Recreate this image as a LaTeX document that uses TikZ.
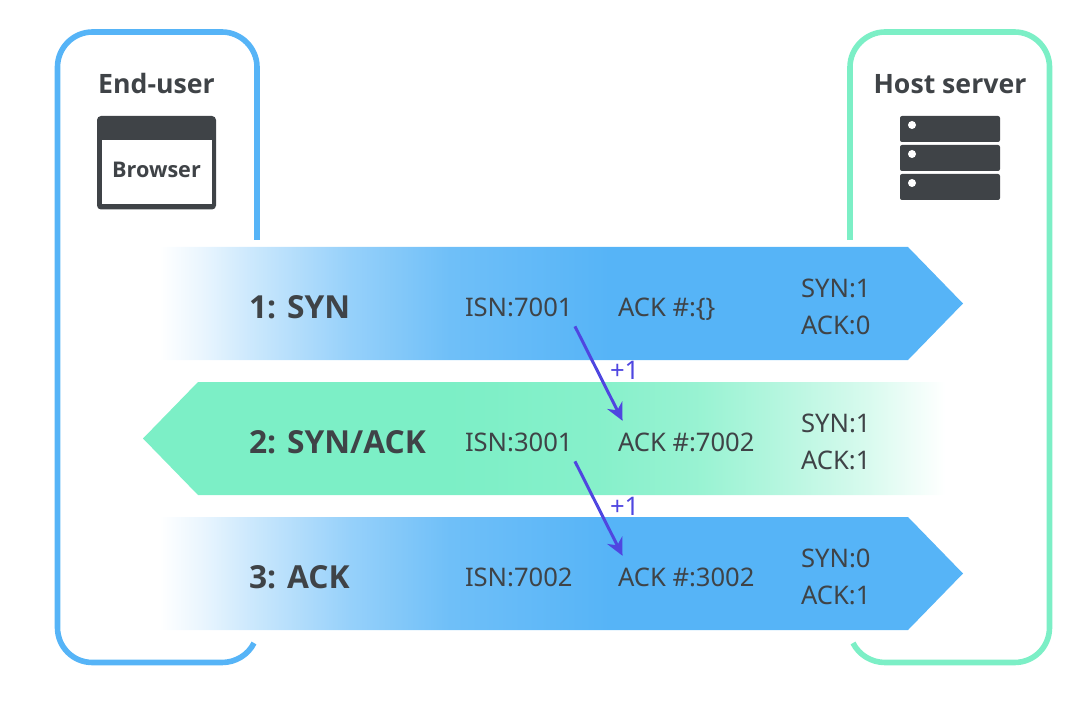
\documentclass[tikz,border=0pt]{standalone}
\usepackage{fontspec}
\setmainfont{Noto Sans}
\newfontfamily\labelfont{Open Sans}
\usetikzlibrary{arrows.meta,positioning,calc}

\definecolor{userblue}{HTML}{56B4F7}
\definecolor{hostgreen}{HTML}{7CEFC6}
\definecolor{inkgray}{HTML}{3F4347}
\definecolor{incviolet}{HTML}{4F46E0}

\pgfdeclarehorizontalshading{bluefade}{100bp}{color(0bp)=(white); color(25bp)=(white); color(27.5bp)=(userblue!12); color(30.6bp)=(userblue!30); color(36.8bp)=(userblue!62); color(43bp)=(userblue!85); color(53bp)=(userblue); color(100bp)=(userblue)}
\pgfdeclarehorizontalshading{greenfade}{100bp}{color(0bp)=(hostgreen); color(44bp)=(hostgreen); color(53.5bp)=(hostgreen!92); color(59.7bp)=(hostgreen!78); color(63.9bp)=(hostgreen!60); color(70.1bp)=(hostgreen!30); color(75bp)=(white); color(100bp)=(white)}

\begin{document}
\begin{tikzpicture}[
    x=0.75pt, y=-0.75pt,
    >=Stealth,
    node font=\fontsize{19.2pt}{22pt}\selectfont,
    every node/.style={inner sep=0pt, outer sep=0pt, text=inkgray},
    side box/.style={line width=4.2pt},
    seq label/.style={anchor=base west, font=\fontsize{23.8pt}{26pt}\selectfont\labelfont\bfseries},
    field/.style={anchor=base west},
    head label/.style={anchor=base, font=\fontsize{20pt}{22pt}\selectfont\labelfont\bfseries},
    inc arrow/.style={line width=2.25pt, draw=incviolet, -{Stealth[length=13pt, width=12.5pt]}},
    inc label/.style={anchor=base west, text=incviolet},
    server unit/.style={fill=inkgray, rounded corners=1.5pt},
]
\useasboundingbox (0,0) rectangle (1092,702);

% === Side boxes ===
\draw[side box, userblue] (257,240) -- (257,67) .. controls (257,48) and (241,32) .. (222,32)
    -- (92.5,32) .. controls (73,32) and (57.5,48) .. (57.5,67)
    -- (57.5,627.5) .. controls (57.5,647) and (73,662.5) .. (92.5,662.5)
    -- (222,662.5) .. controls (235.4,662.5) and (248.1,655) .. (254,643);
\draw[side box, hostgreen] (850,240) -- (850,67) .. controls (850,48) and (866,32) .. (885,32)
    -- (1014.5,32) .. controls (1034,32) and (1049.5,48) .. (1049.5,67)
    -- (1049.5,627.5) .. controls (1049.5,647) and (1034,662.5) .. (1014.5,662.5)
    -- (885,662.5) .. controls (871.6,662.5) and (858.9,655) .. (853,643);

\node[head label] (enduser) at (156.5,94) {End-user};
\node[head label] (hostserver) at (950,94) {Host server};

% === Browser window ===
\fill[inkgray, rounded corners=3pt] (97,116) rectangle (216,209.5);
\fill[white] (101.5,140) rectangle (211.5,204.5);
\node[anchor=base, font=\fontsize{16.2pt}{18pt}\selectfont\labelfont\bfseries] (browser) at (156.5,177.5) {Browser};

% === Server rack ===
\fill[server unit] (900,116) rectangle (1000,142);
\fill[server unit] (900,145) rectangle (1000,171);
\fill[server unit] (900,174) rectangle (1000,200);
\fill[white] (912,125) circle (4);
\fill[white] (912,154) circle (4);
\fill[white] (912,183) circle (4);

% === Segments ===
\path[shading=bluefade] (160,247) -- (908,247) -- (963,303.5) -- (908,360) -- (160,360) -- cycle;
\path[shading=greenfade] (945,382) -- (198,382) -- (143,438.5) -- (198,495) -- (945,495) -- cycle;
\path[shading=bluefade] (160,517) -- (908,517) -- (963,573.5) -- (908,630) -- (160,630) -- cycle;

% Row 1
\node[seq label] (syn) at (249,318) {1: SYN};
\node[field] (isnA) at (465,316) {ISN:7001};
\node[field] (ackA) at (618,316) {ACK \#:\{\}};
\node[field] (flagsynA) at (801,297) {SYN:1};
\node[field] (flagackA) at (801,334.5) {ACK:0};

% Row 2
\node[seq label] (synack) at (249,453) {2: SYN/ACK};
\node[field] (isnB) at (465,451) {ISN:3001};
\node[field] (ackB) at (618,451) {ACK \#:7002};
\node[field] (flagsynB) at (801,432) {SYN:1};
\node[field] (flagackB) at (801,469.5) {ACK:1};

% Row 3
\node[seq label] (ack) at (249,588) {3: ACK};
\node[field] (isnC) at (465,586) {ISN:7002};
\node[field] (ackC) at (618,586) {ACK \#:3002};
\node[field] (flagsynC) at (801,567) {SYN:0};
\node[field] (flagackC) at (801,604.5) {ACK:1};

% Increments
\draw[inc arrow] ([xshift=1.75pt,yshift=-7.5pt]isnA.south east) -- ([xshift=3.4pt,yshift=8.75pt]ackB.north west);
\draw[inc arrow] ([xshift=1.75pt,yshift=-7.5pt]isnB.south east) -- ([xshift=3.4pt,yshift=8.75pt]ackC.north west);
\node[inc label] (plusA) at (610,379) {+1};
\node[inc label] (plusB) at (610,515) {+1};

\end{tikzpicture}
\end{document}
